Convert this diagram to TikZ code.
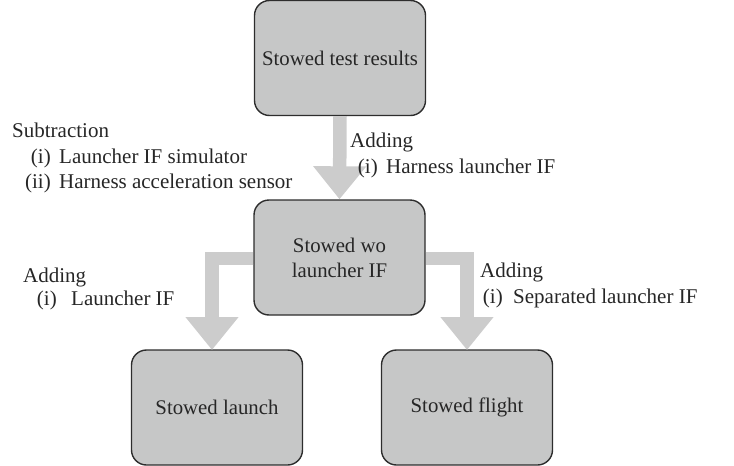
\documentclass[tikz,border=0pt]{standalone}
\usepackage{fontspec}
\setmainfont{Liberation Serif}
\usetikzlibrary{arrows.meta}
\definecolor{boxfill}{RGB}{198,199,199}
\definecolor{boxline}{RGB}{45,45,45}
\definecolor{flowgray}{RGB}{204,204,204}
\tikzset{
  stage/.style={draw=boxline, line width=1.4pt, fill=boxfill, rounded corners=15pt,
    minimum width=171pt, minimum height=115pt, inner sep=0pt, align=center,
    font=\fontsize{20.8}{25}\selectfont, text=black!85},
  flow/.style={draw=flowgray, line width=13.5pt, line join=miter,
    -{Triangle[width=51pt,length=33pt]}},
  note/.style={anchor=base west, inner sep=0pt, font=\fontsize{21}{25}\selectfont, text=black!85},
  num/.style={note, anchor=base east},
}
\begin{document}
\begin{tikzpicture}[x=1pt,y=-1pt]
\useasboundingbox (0,0) rectangle (734,466);

% process stages
\node[stage] (res) at (340,58) {Stowed test results};
\node[stage] (wo)  at (339.5,257.5) {Stowed wo\\launcher IF};
\node[stage] (lau) at (217,407.5) {Stowed launch};
\node[stage] (fli) at (467,407.5) {Stowed flight};

% flows between stages
\coordinate (lauin) at (212,350);
\coordinate (fliin) at (467,350);
\draw[flow] (res.south) -- (wo.north);
\draw[flow] ([yshift=-1pt]wo.west) -| (lauin);
\draw[flow] ([yshift=-1pt]wo.east) -| (fliin);

% annotations
\node[note] (sub)  at (12,137) {Subtraction};
\node[num] (sub1n) at (51,163) {(i)};
\node[note] (sub1) at (59,163) {Launcher IF simulator};
\node[num] (sub2n) at (51,188) {(ii)};
\node[note] (sub2) at (59,188) {Harness acceleration sensor};

\node[note] (add)  at (350,147) {Adding};
\node[num] (add1n) at (378,173) {(i)};
\node[note] (add1) at (386,173) {Harness launcher IF};

\node[note] (addl)  at (23,282) {Adding};
\node[num] (addl1n) at (57,305) {(i)};
\node[note] (addl1) at (71,305) {Launcher IF};

\node[note] (addr)  at (480,277) {Adding};
\node[num] (addr1n) at (503,303) {(i)};
\node[note] (addr1) at (513,303) {Separated launcher IF};
\end{tikzpicture}
\end{document}
